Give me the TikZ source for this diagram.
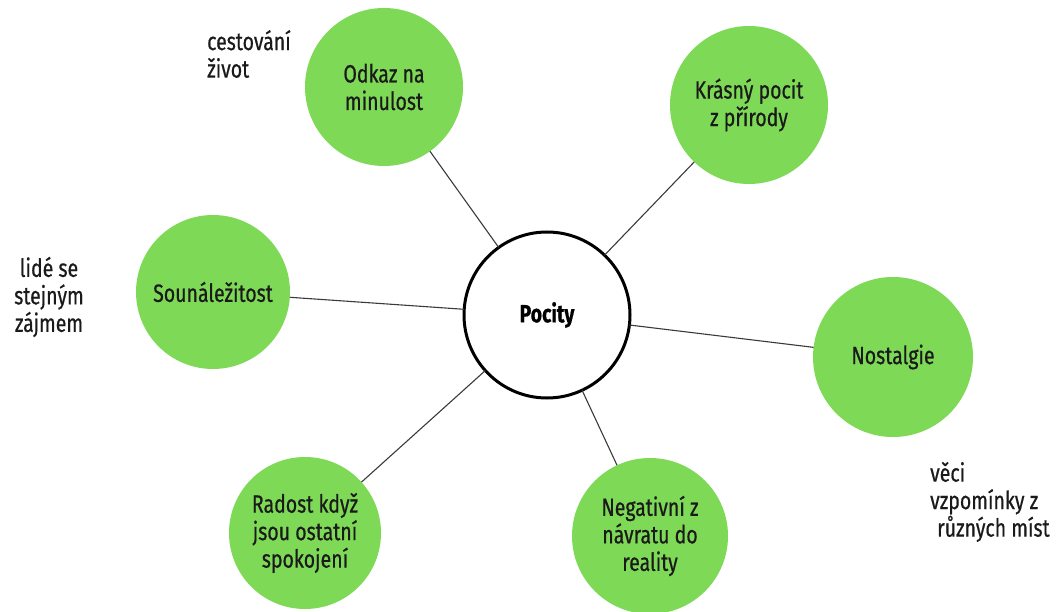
\documentclass[tikz,border=0pt]{standalone}
\usepackage{fontspec}
\setmainfont[FakeStretch=0.78,FakeBold=0.6]{Fira Sans}
\definecolor{leaf}{HTML}{7ED957}
\definecolor{ink}{HTML}{1A1A1A}
\definecolor{wire}{HTML}{3A3A3A}
\begin{document}
\begin{tikzpicture}[x=1pt,y=-1pt,
  bubble/.style={circle,fill=leaf,inner sep=0pt,outer sep=0pt,align=center,text=ink,
    font=\fontsize{25}{27.5}\selectfont},
  hub/.style={circle,draw=black,line width=3pt,fill=white,inner sep=0pt,outer sep=0pt,
    minimum size=166pt,font=\fontsize{25}{27}\selectfont\bfseries},
  note/.style={inner sep=0pt,text=ink,font=\fontsize{25}{27.5}\selectfont},
  link/.style={draw=wire,line width=1.1pt}]
\useasboundingbox (0,0) rectangle (1061,612);
\node[bubble,minimum size=158pt] (odkaz) at (384,87) {Odkaz na\\minulost};
\node[bubble,minimum size=158pt] (krasny) at (749,105) {Krásný pocit\\z přírody};
\node[bubble,minimum size=154pt] (soun) at (213,292) {Sounáležitost};
\node[bubble,minimum size=160pt] (nost) at (893,357) {Nostalgie};
\node[bubble,minimum size=152pt] (radost) at (305,533) {Radost když\\jsou ostatní\\spokojení};
\node[bubble,minimum size=156pt] (neg) at (650,536) {Negativní z\\návratu do\\reality};
\node[hub] (pocity) at (547,315) {Pocity};
\foreach \n in {odkaz,krasny,soun,nost,radost,neg}
  \draw[link] (pocity) -- (\n);
\node[note,align=left,anchor=west] (n1) at (207,54) {cestování\\život};
\node[note,align=center] (n2) at (49,297) {lidé se\\stejným\\zájmem};
\node[note,align=left,anchor=west] (n3) at (930,502) {věci\\vzpomínky z\\\hspace*{7pt}různých míst};
\end{tikzpicture}
\end{document}
